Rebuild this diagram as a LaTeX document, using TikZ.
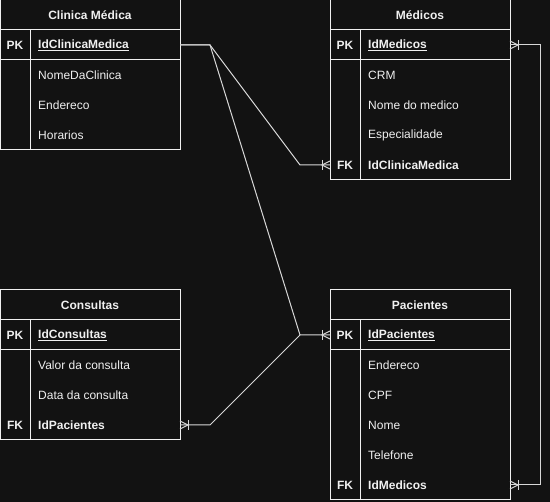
\documentclass[tikz,border=0pt]{standalone}
\usepackage{fontspec}
\setmainfont{Liberation Sans}
\definecolor{bgdark}{RGB}{18,18,18}
\definecolor{inkwhite}{RGB}{240,240,240}
\definecolor{linkgray}{RGB}{215,215,215}
\begin{document}
\begin{tikzpicture}[x=1pt,y=-1pt,
  frame/.style={draw=inkwhite, line width=1pt, anchor=north west, minimum width=180pt, inner sep=0pt, outer sep=0pt},
  rowbox/.style={minimum width=180pt, minimum height=30pt, inner sep=0pt, outer sep=0pt},
  rule/.style={draw=inkwhite, line width=1pt},
  title/.style={text=inkwhite, font=\fontsize{12}{14}\selectfont\bfseries},
  keytxt/.style={text=inkwhite, font=\fontsize{12}{14}\selectfont\bfseries},
  field/.style={text=inkwhite, anchor=west, inner sep=0pt, font=\fontsize{12}{14}\selectfont},
  keyfield/.style={field, font=\fontsize{12}{14}\selectfont\bfseries},
  conn/.style={draw=linkgray, line width=1pt},
  crowfoot/.pic={
    \draw[linkgray, line width=1pt] (0,-4) -- (-8,0) -- (0,4);
    \draw[linkgray, line width=1pt] (-8,-5) -- (-8,5);
  }]
  % canvas
  \fill[bgdark] (0,0) rectangle (550,502);
  \useasboundingbox (0,0) rectangle (550,502);

  % ---------- Clinica Médica ----------
  \node[frame, minimum height=150pt] (clin) at (0,0) {};
  \draw[rule] (0,30) -- (180,30) (0,60) -- (180,60) (30,30) -- (30,150);
  \node[title] (clinT) at (90,15) {Clinica Médica};
  \node[rowbox] (clinPK) at (90,45) {};
  \node[keytxt] (clinPKk) at (15,45) {PK};
  \node[keyfield] (clinPKf) at (38,45) {\underline{IdClinicaMedica}};
  \node[field] (clinF1) at (38,75) {NomeDaClinica};
  \node[field] (clinF2) at (38,105) {Endereco};
  \node[field] (clinF3) at (38,135) {Horarios};

  % ---------- Médicos ----------
  \node[frame, minimum height=180pt] (med) at (330,0) {};
  \draw[rule] (330,30) -- (510,30) (330,60) -- (510,60) (360,30) -- (360,180);
  \node[title] (medT) at (420,15) {Médicos};
  \node[rowbox] (medPK) at (420,45) {};
  \node[keytxt] (medPKk) at (345,45) {PK};
  \node[keyfield] (medPKf) at (368,45) {\underline{IdMedicos}};
  \node[field] (medF1) at (368,75) {CRM};
  \node[field] (medF2) at (368,105) {Nome do medico};
  \node[field] (medF3) at (368,135) {Especialidade};
  \node[rowbox] (medFK) at (420,165) {};
  \node[keytxt] (medFKk) at (345,165) {FK};
  \node[keyfield] (medFKf) at (368,165) {IdClinicaMedica};

  % ---------- Consultas ----------
  \node[frame, minimum height=150pt] (con) at (0,290) {};
  \draw[rule] (0,320) -- (180,320) (0,350) -- (180,350) (30,320) -- (30,440);
  \node[title] (conT) at (90,305) {Consultas};
  \node[rowbox] (conPK) at (90,335) {};
  \node[keytxt] (conPKk) at (15,335) {PK};
  \node[keyfield] (conPKf) at (38,335) {\underline{IdConsultas}};
  \node[field] (conF1) at (38,365) {Valor da consulta};
  \node[field] (conF2) at (38,395) {Data da consulta};
  \node[rowbox] (conFK) at (90,425) {};
  \node[keytxt] (conFKk) at (15,425) {FK};
  \node[keyfield] (conFKf) at (38,425) {IdPacientes};

  % ---------- Pacientes ----------
  \node[frame, minimum height=210pt] (pac) at (330,290) {};
  \draw[rule] (330,320) -- (510,320) (330,350) -- (510,350) (360,320) -- (360,500);
  \node[title] (pacT) at (420,305) {Pacientes};
  \node[rowbox] (pacPK) at (420,335) {};
  \node[keytxt] (pacPKk) at (345,335) {PK};
  \node[keyfield] (pacPKf) at (368,335) {\underline{IdPacientes}};
  \node[field] (pacF1) at (368,365) {Endereco};
  \node[field] (pacF2) at (368,395) {CPF};
  \node[field] (pacF3) at (368,425) {Nome};
  \node[field] (pacF4) at (368,455) {Telefone};
  \node[rowbox] (pacFK) at (420,485) {};
  \node[keytxt] (pacFKk) at (345,485) {FK};
  \node[keyfield] (pacFKf) at (368,485) {IdMedicos};

  % ---------- relationships ----------
  \draw[conn] (clinPK.east) -- ++(30,0) -- ([xshift=-30pt]medFK.west) -- (medFK.west);
  \draw[conn] (clinPK.east) -- ++(30,0) -- ([xshift=-30pt]pacPK.west) -- (pacPK.west);
  \draw[conn] (conFK.east) -- ++(30,0) -- ([xshift=-30pt]pacPK.west);
  \draw[conn] (medPK.east) -- ++(30,0) |- (pacFK.east);

  \pic at (medFK.west) {crowfoot};
  \pic at (pacPK.west) {crowfoot};
  \pic[xscale=-1] at (conFK.east) {crowfoot};
  \pic[xscale=-1] at (medPK.east) {crowfoot};
  \pic[xscale=-1] at (pacFK.east) {crowfoot};
\end{tikzpicture}
\end{document}
